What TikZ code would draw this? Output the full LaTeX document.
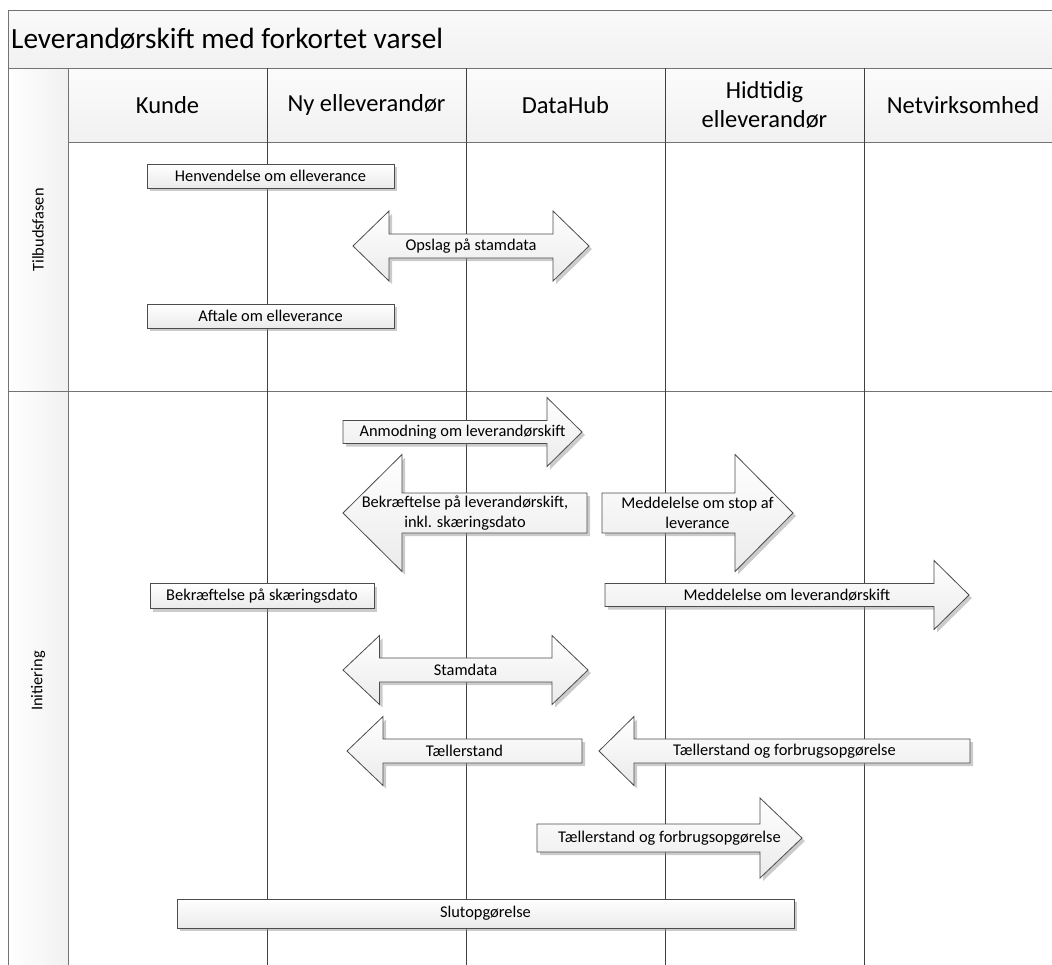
\documentclass[tikz,border=0pt]{standalone}
\usepackage{fontspec}
\setmainfont{Carlito}
\usetikzlibrary{shadows}
\newcommand\titlefont{\fontsize{29.3}{35}\selectfont}
\newcommand\headfont{\fontsize{24.5}{29.5}\selectfont}
\newcommand\msgfont{\fontsize{16.4}{20}\selectfont}
% block arrows: name (left/tip, head base, tip/end, centre y)(shaft half, head half) text
\def\msgright#1(#2,#3,#4,#5)(#6,#7)#8{\draw[blockarrow] (#2,#5-#6) -- (#3,#5-#6) -- (#3,#5-#7) -- (#4,#5) -- (#3,#5+#7) -- (#3,#5+#6) -- (#2,#5+#6) -- cycle;
	\node[msgtext] (#1) at ({(#2+#4)/2},#5) {#8};}
\def\msgleft#1(#2,#3,#4,#5)(#6,#7)#8{\draw[blockarrow] (#2,#5) -- (#3,#5-#7) -- (#3,#5-#6) -- (#4,#5-#6) -- (#4,#5+#6) -- (#3,#5+#6) -- (#3,#5+#7) -- cycle;
	\node[msgtext] (#1) at ({(#2+#4)/2},#5) {#8};}
\def\msgboth#1(#2,#3,#4,#5,#6)(#7,#8)#9{\draw[blockarrow] (#2,#6) -- (#3,#6-#8) -- (#3,#6-#7) -- (#4,#6-#7) -- (#4,#6-#8) -- (#5,#6) -- (#4,#6+#8) -- (#4,#6+#7) -- (#3,#6+#7) -- (#3,#6+#8) -- cycle;
	\node[msgtext] (#1) at ({(#2+#5)/2},#6) {#9};}

\begin{document}
\begin{tikzpicture}[x=1pt,y=-1pt,
	frame/.style={draw=black!55,line width=1pt},
	lane/.style={draw=black!75,line width=0.9pt},
	shade/.style={drop shadow={shadow xshift=3pt,shadow yshift=-3pt,fill=black!45,opacity=.45}},
	msgbox/.style={draw=black!70,line width=0.8pt,top color=white,bottom color=gray!16,shade,font=\msgfont,inner sep=0pt},
	blockarrow/.style={draw=black!70,line width=0.8pt,top color=white,bottom color=gray!16,shade},
	msgtext/.style={font=\msgfont,align=center,inner sep=0pt},
	lanehead/.style={font=\headfont,align=center,inner sep=0pt}]
	\clip (0,0) rectangle (1052,964);
	%%%%% POOL %%%%%
	\draw[frame,top color=gray!4,bottom color=gray!11] (8,10) rectangle (1075,68);
	\draw[frame,top color=gray!3,bottom color=gray!11] (68,68) rectangle (1075,142);
	\draw[frame,left color=white,right color=gray!11] (8,68) rectangle (68,391);
	\draw[frame,left color=white,right color=gray!11] (8,391) rectangle (68,995);
	\draw[frame] (68,391) -- (1075,391);
	\foreach \x in {267,466,665,864}
		\draw[lane] (\x,68) -- (\x,995);
	
	\node[anchor=west,font=\titlefont,inner sep=0pt] (title) at (11,39) {Leverandørskift med forkortet varsel};
	\node[lanehead] (kunde) at (167.5,105) {Kunde};
	\node[lanehead] (nyLev) at (366.5,105) {Ny elleverandør};
	\node[lanehead] (dataHub) at (565.5,105) {DataHub};
	\node[lanehead] (hidLev) at (764.5,105) {Hidtidig\\elleverandør};
	\node[lanehead] (netVirk) at (963,105) {Netvirksomhed};
	\node[msgtext,rotate=90] (tilbud) at (38,230) {Tilbudsfasen};
	\node[msgtext,rotate=90] (initiering) at (38,681) {Initiering};
	
	%%%%% TILBUDSFASEN %%%%%
	\node[msgbox,minimum width=247pt,minimum height=24pt] (henvendelse) at (270.5,176) {Henvendelse om elleverance};
	\msgboth{opslag}(353,389,553,589,246)(12,35){Opslag på stamdata}
	\node[msgbox,minimum width=247pt,minimum height=24pt] (aftale) at (270.5,316) {Aftale om elleverance};
	
	%%%%% INITIERING %%%%%
	\msgright{anmodning}(343,547,582,432)(11.5,34.5){Anmodning om leverandørskift}
	\msgleft{bekraeftLev}(343,402,587,513)(20,58.5){Bekræftelse på leverandørskift,\\inkl. skæringsdato}
	\msgright{stopLev}(602,735,793,513)(20,58.5){Meddelelse om stop af\\leverance}
	\node[msgbox,minimum width=224pt,minimum height=25pt] (bekraeftDato) at (262,596) {Bekræftelse på skæringsdato};
	\msgright{skiftNet}(605,934,969,595)(11.5,34.5){Meddelelse om leverandørskift}
	\msgboth{stamdata}(343,379.5,552,588,670)(12,34.5){Stamdata}
	\msgleft{taeller}(347,383,582,751)(12,34.5){Tællerstand}
	\msgleft{forbrugNet}(599,634,970,751)(12,34.5){Tællerstand og forbrugsopgørelse}
	\msgright{forbrugHid}(537,760,802,838)(14,40){Tællerstand og forbrugsopgørelse}
	\node[msgbox,minimum width=617pt,minimum height=29pt] (slut) at (485.5,913.5) {Slutopgørelse};
\end{tikzpicture}
\end{document}
